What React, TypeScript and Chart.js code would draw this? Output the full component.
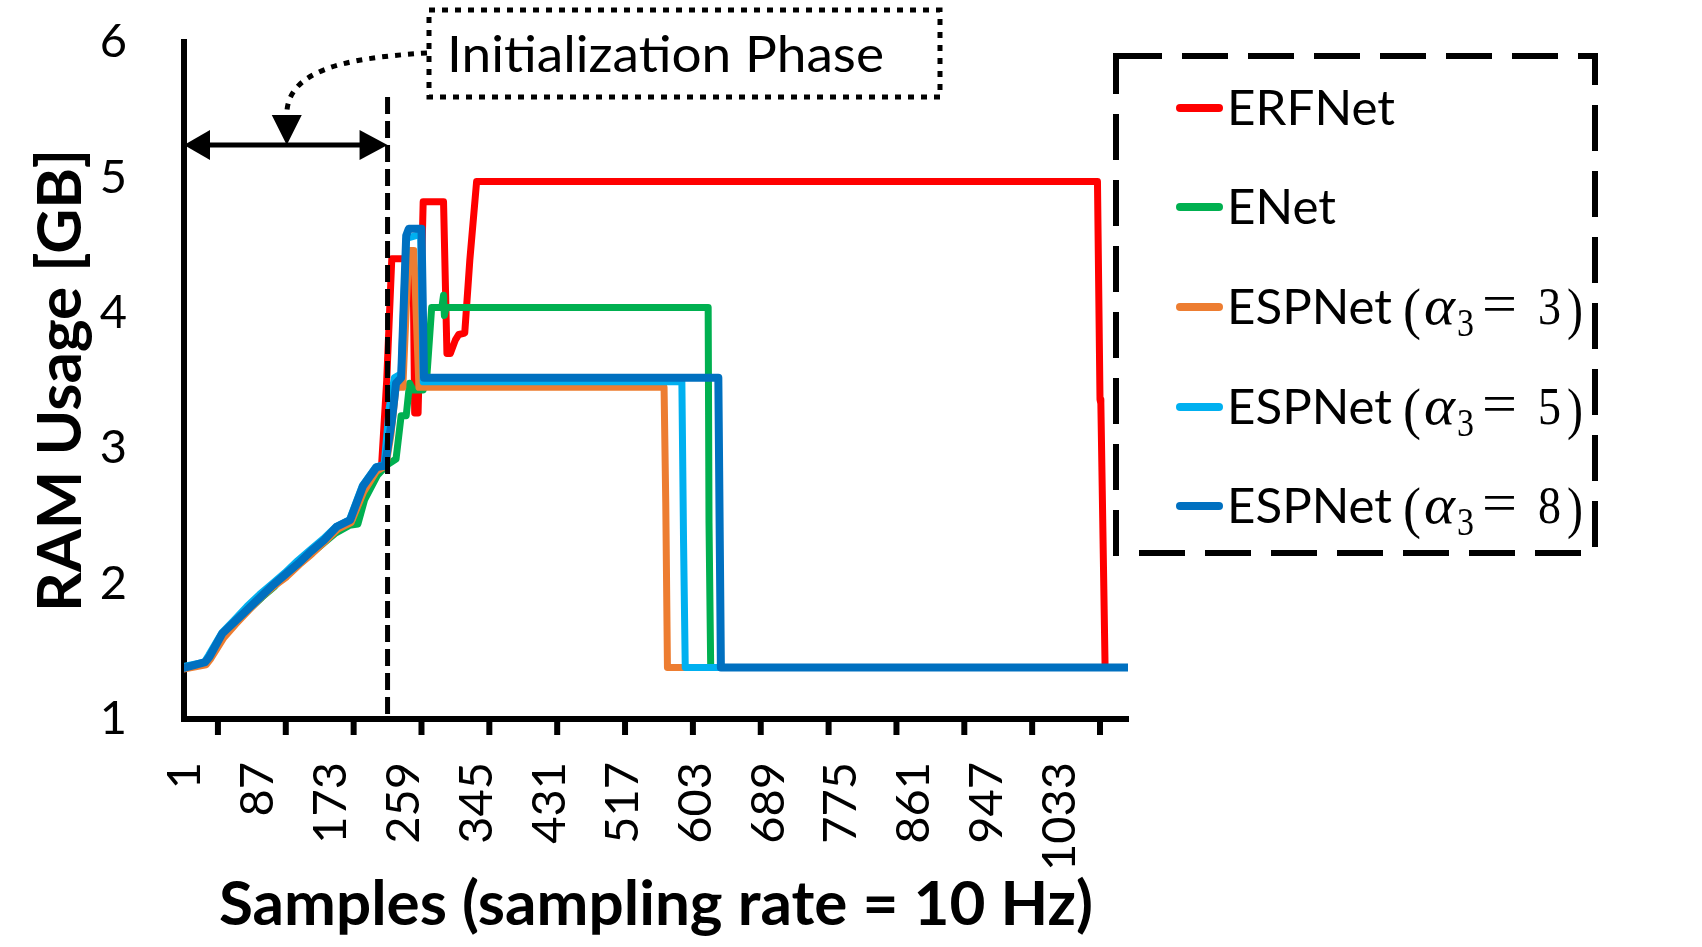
import { useEffect, useRef } from 'react';
import { Chart, registerables } from 'chart.js';

Chart.register(...registerables);

// samples on the x axis, RAM in GB on the y axis
const xTickValues = [1, 87, 173, 259, 345, 431, 517, 603, 689, 775, 861, 947, 1033];
const xTickMarks = [40, 120, 200, 280, 360, 440, 520, 600, 680, 760, 840, 920, 1000, 1080];
const xMin = 0;
const xMax = 1113;
const yMin = 1;
const yMax = 6;

const initPhaseEnd = 240;
const initArrowLevel = 5.24;

const erfnet = [
  [1, 1.38], [25, 1.41], [30, 1.45], [46, 1.62], [60, 1.71], [75, 1.8], [90, 1.89], [105, 1.98],
  [120, 2.06], [135, 2.14], [150, 2.23], [165, 2.31], [180, 2.41], [196, 2.46], [211, 2.7], [226, 2.84],
  [233, 2.88], [239, 3.5], [245, 4.4], [270, 4.4], [272, 3.26], [276, 3.26], [282, 4.82], [306, 4.82],
  [310, 3.7], [314, 3.7], [320, 3.8], [324, 3.84], [331, 3.85], [337, 4.39], [345, 4.97], [1077, 4.97],
  [1080, 3.36], [1081, 3.33], [1086, 1.38], [1113, 1.38],
];
const enet = [
  [1, 1.38], [25, 1.41], [32, 1.47], [47, 1.61], [62, 1.72], [77, 1.81], [92, 1.9], [107, 1.98],
  [118, 2.06], [133, 2.13], [148, 2.21], [163, 2.29], [178, 2.37], [195, 2.43], [205, 2.44], [213, 2.62],
  [228, 2.8], [240, 2.88], [250, 2.92], [256, 3.24], [262, 3.24], [266, 3.48], [270, 3.43], [282, 3.43],
  [286, 3.5], [292, 4.04], [304, 4.04], [306, 4.13], [307, 3.98], [309, 4.04], [618, 4.04], [619, 2.45],
  [621, 1.38], [1113, 1.38],
];
const espnet3 = [
  [1, 1.37], [26, 1.4], [31, 1.44], [47, 1.6], [61, 1.7], [76, 1.8], [91, 1.9], [106, 1.98],
  [121, 2.05], [136, 2.14], [151, 2.22], [166, 2.31], [181, 2.4], [197, 2.45], [212, 2.68], [227, 2.83],
  [238, 2.87], [244, 3.1], [250, 3.45], [258, 3.45], [265, 4.46], [271, 4.46], [277, 3.45], [566, 3.45],
  [568, 2.6], [570, 1.38], [1113, 1.38],
];
const espnet5 = [
  [1, 1.39], [24, 1.42], [29, 1.47], [45, 1.64], [59, 1.73], [74, 1.83], [89, 1.92], [104, 2.0],
  [119, 2.08], [134, 2.17], [149, 2.25], [164, 2.33], [179, 2.42], [195, 2.47], [210, 2.72], [226, 2.86],
  [236, 2.88], [242, 3.3], [248, 3.52], [256, 3.55], [262, 4.55], [279, 4.58], [282, 3.49], [587, 3.49],
  [589, 2.3], [591, 1.38], [1113, 1.38],
];
const espnet8 = [
  [1, 1.38], [25, 1.42], [30, 1.46], [45, 1.63], [60, 1.72], [75, 1.81], [90, 1.9], [105, 1.99],
  [120, 2.07], [135, 2.15], [150, 2.24], [165, 2.32], [180, 2.42], [196, 2.47], [211, 2.72], [227, 2.86],
  [237, 2.87], [245, 3.2], [250, 3.48], [256, 3.52], [262, 4.57], [265, 4.62], [280, 4.62], [283, 3.52],
  [630, 3.52], [633, 1.38], [1113, 1.38],
];

const seriesData = [erfnet, enet, espnet3, espnet5, espnet8];
const seriesNames = ['ERFNet', 'ENet', 'ESPNet', 'ESPNet', 'ESPNet'];
const seriesAlpha = [null, null, '3', '5', '8'];
const seriesColors = ['#FF0000', '#00B050', '#ED7D31', '#00B0F0', '#0070C0'];

const SANS = 'Lato, "Open Sans", sans-serif';
const SERIF = '"Liberation Serif", "DejaVu Serif", serif';

// draw text squeezed/stretched to a given width
function fitText(ctx, text, x, y, font, width) {
  ctx.font = font;
  const w = ctx.measureText(text).width || 1;
  ctx.save();
  ctx.translate(x, y);
  ctx.scale(width / w, 1);
  ctx.fillText(text, 0, 0);
  ctx.restore();
}

const overlay = {
  id: 'overlay',
  afterDraw(chart) {
    const { ctx, chartArea, scales } = chart;
    const xs = scales.x;
    const ys = scales.y;
    ctx.save();
    ctx.strokeStyle = '#000';
    ctx.fillStyle = '#000';

    // x tick marks (placed between the labels, as in the source)
    ctx.lineWidth = 6;
    xTickMarks.forEach(v => {
      const px = xs.getPixelForValue(v);
      ctx.beginPath();
      ctx.moveTo(px, chartArea.bottom);
      ctx.lineTo(px, chartArea.bottom + 16);
      ctx.stroke();
    });

    // end of initialization phase
    const xe = xs.getPixelForValue(initPhaseEnd);
    ctx.lineWidth = 5;
    ctx.setLineDash([17, 7]);
    ctx.beginPath();
    ctx.moveTo(xe, 97);
    ctx.lineTo(xe, chartArea.bottom);
    ctx.stroke();
    ctx.setLineDash([]);

    // double arrow
    const xa = chartArea.left;
    const ya = ys.getPixelForValue(initArrowLevel);
    ctx.beginPath();
    ctx.moveTo(xa + 20, ya);
    ctx.lineTo(xe - 20, ya);
    ctx.stroke();
    ctx.beginPath();
    ctx.moveTo(xa, ya);
    ctx.lineTo(xa + 26, ya - 15);
    ctx.lineTo(xa + 26, ya + 15);
    ctx.closePath();
    ctx.fill();
    ctx.beginPath();
    ctx.moveTo(xe, ya);
    ctx.lineTo(xe - 28, ya - 15);
    ctx.lineTo(xe - 28, ya + 15);
    ctx.closePath();
    ctx.fill();

    // dotted callout box
    ctx.lineWidth = 5;
    ctx.setLineDash([6, 7]);
    ctx.strokeRect(429, 10, 511, 87);
    // dotted curved pointer
    const xm = (xa + xe) / 2 + 1;
    ctx.beginPath();
    ctx.moveTo(427, 53);
    ctx.bezierCurveTo(340, 58, xm, 72, xm, ya - 30);
    ctx.stroke();
    ctx.setLineDash([]);
    ctx.beginPath();
    ctx.moveTo(xm, ya);
    ctx.lineTo(xm - 15, ya - 30);
    ctx.lineTo(xm + 15, ya - 30);
    ctx.closePath();
    ctx.fill();

    ctx.textAlign = 'left';
    ctx.textBaseline = 'alphabetic';
    fitText(ctx, 'Initialization Phase', 447, 72, `51px ${SANS}`, 437);

    // legend
    ctx.lineWidth = 6;
    ctx.setLineDash([46, 20]);
    ctx.strokeRect(1116, 56, 479, 497);
    ctx.setLineDash([]);
    const rowY = [108, 207, 307, 407, 506];
    seriesNames.forEach((name, i) => {
      const ly = rowY[i];
      ctx.strokeStyle = seriesColors[i];
      ctx.lineWidth = 8;
      ctx.lineCap = 'round';
      ctx.beginPath();
      ctx.moveTo(1180, ly);
      ctx.lineTo(1219, ly);
      ctx.stroke();
      ctx.fillStyle = '#000';
      const base = ly + 17;
      const a = seriesAlpha[i];
      if (!a) {
        fitText(ctx, name, 1227, base, `49px ${SANS}`, name === 'ENet' ? 109 : 168);
      } else {
        fitText(ctx, name, 1227, base, `49px ${SANS}`, 165);
        fitText(ctx, '(', 1403, base + 4, `56px ${SERIF}`, 18);
        fitText(ctx, 'α', 1424, base, `italic 54px ${SERIF}`, 31);
        fitText(ctx, '3', 1457, base + 12, `40px ${SERIF}`, 17);
        fitText(ctx, '=', 1482, base - 2, `54px ${SERIF}`, 35);
        fitText(ctx, a, 1538, base, `52px ${SERIF}`, 23);
        fitText(ctx, ')', 1567, base + 4, `56px ${SERIF}`, 16);
      }
    });
    ctx.restore();
  },
};

export default function App() {
  const canvasRef = useRef(null);

  useEffect(() => {
    const ctx = canvasRef.current.getContext('2d');
    const chart = new Chart(ctx, {
      type: 'line',
      data: {
        datasets: seriesData.map((pts, i) => ({
          label: seriesAlpha[i] ? `${seriesNames[i]} (α3 = ${seriesAlpha[i]})` : seriesNames[i],
          data: pts.map(([x, y]) => ({ x, y })),
          borderColor: seriesColors[i],
          backgroundColor: seriesColors[i],
          borderWidth: i === 4 ? 8 : 7,
          pointRadius: 0,
          tension: 0,
          borderJoinStyle: 'round',
          borderCapStyle: 'round',
          order: seriesData.length - i,
        })),
      },
      options: {
        animation: false,
        responsive: false,
        events: [],
        layout: { padding: { left: 0, top: 42, right: 574, bottom: 0 } },
        plugins: {
          legend: { display: false },
          tooltip: { enabled: false },
        },
        scales: {
          x: {
            type: 'linear',
            min: xMin,
            max: xMax,
            afterBuildTicks: scale => {
              scale.ticks = xTickValues.map(v => ({ value: v }));
            },
            afterFit: scale => {
              scale.height = 228;
              scale.paddingLeft = 0;
              scale.paddingRight = 0;
            },
            ticks: {
              autoSkip: false,
              minRotation: 90,
              maxRotation: 90,
              padding: 43,
              color: '#000',
              font: { family: SANS, size: 47 },
              callback: v => String(v),
            },
            grid: { display: false, drawTicks: false },
            border: { display: true, color: '#000', width: 6 },
            title: {
              display: true,
              text: 'Samples (sampling rate = 10 Hz)',
              color: '#000',
              font: { family: SANS, size: 62, weight: 'bold' },
              padding: { top: 0, bottom: 5 },
            },
          },
          y: {
            min: yMin,
            max: yMax,
            afterFit: scale => {
              scale.width = 184;
              scale.paddingTop = 0;
              scale.paddingBottom = 0;
            },
            ticks: {
              stepSize: 1,
              padding: 57,
              color: '#000',
              font: { family: SANS, size: 47 },
            },
            grid: { display: false, drawTicks: false },
            border: { display: true, color: '#000', width: 6 },
            title: {
              display: true,
              text: 'RAM Usage [GB]',
              color: '#000',
              font: { family: SANS, size: 62, weight: 'bold' },
              padding: { top: 24, bottom: 0 },
            },
          },
        },
      },
      plugins: [overlay],
    });

    return () => {
      chart.destroy();
    };
  }, []);

  return (
    <div style={{ position: 'absolute', left: 0, top: 0, width: 1702, height: 947, background: '#fff' }}>
      <canvas ref={canvasRef} width={1702} height={947} />
    </div>
  );
}
